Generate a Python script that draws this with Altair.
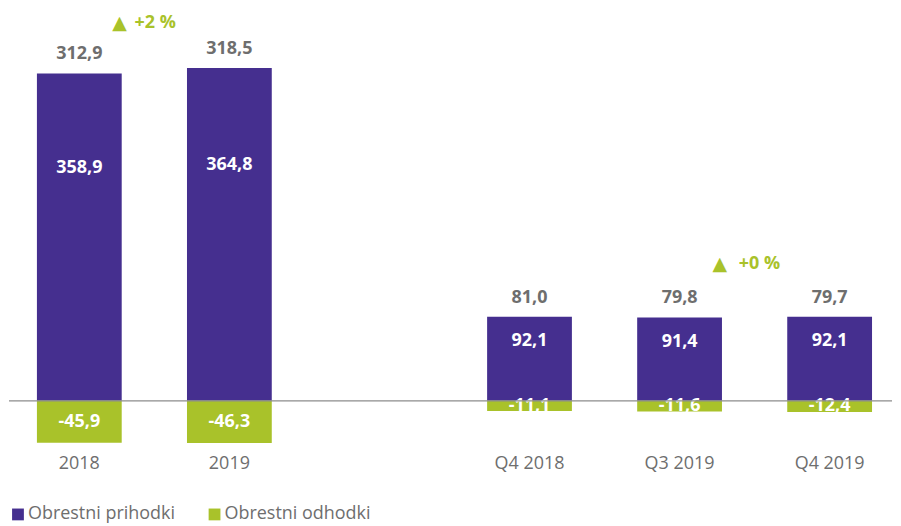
import altair as alt
import pandas as pd

# ---- data ----
kategorije = ["2018", "2019", "Q4 2018", "Q3 2019", "Q4 2019"]
x_domena = ["2018", "2019", " ", "Q4 2018", "Q3 2019", "Q4 2019"]
prihodki = [358.9, 364.8, 92.1, 91.4, 92.1]
odhodki = [-45.9, -46.3, -11.1, -11.6, -12.4]
neto = [312.9, 318.5, 81.0, 79.8, 79.7]
serije = ["Obrestni prihodki", "Obrestni odhodki"]
anotacije = ["+2 %", "+0 %"]
anot_kat = ["2019", "Q4 2019"]

PURPLE = "#452F8F"
GREEN = "#A9C22A"
GRAY = "#6E6E6E"
FONT = "Open Sans"


def fmt(v):
    return f"{v:.1f}".replace(".", ",")


long_rows = []
for k, p, o in zip(kategorije, prihodki, odhodki):
    long_rows.append({"kat": k, "serija": serije[0], "vrednost": p})
    long_rows.append({"kat": k, "serija": serije[1], "vrednost": o})
long_df = pd.DataFrame(long_rows)

wide_df = pd.DataFrame({
    "kat": kategorije,
    "prih": prihodki,
    "odh": odhodki,
    "neto": neto,
    "prih_lbl": [fmt(v) for v in prihodki],
    "odh_lbl": [fmt(v) for v in odhodki],
    "neto_lbl": [fmt(v) for v in neto],
})

ann_df = pd.DataFrame({
    "kat": anot_kat,
    "txt": anotacije,
    "tri": ["▲"] * len(anot_kat),
    "prih": [prihodki[kategorije.index(k)] for k in anot_kat],
})

W = 885
H = 437

xscale = alt.Scale(domain=x_domena, paddingInner=0.435, paddingOuter=0.1596, align=0.583)
yscale = alt.Scale(domain=[-48, 430], zero=False, nice=False)

xenc = alt.X(
    "kat:N",
    scale=xscale,
    sort=x_domena,
    title=None,
    axis=alt.Axis(
        domain=False, ticks=False, labelAngle=0, labelFont=FONT,
        labelFontSize=18, labelColor=GRAY, labelPadding=10, grid=False,
    ),
)

bars = alt.Chart(long_df).mark_bar().encode(
    x=xenc,
    y=alt.Y("vrednost:Q", scale=yscale, axis=None, stack=None),
    color=alt.Color(
        "serija:N",
        scale=alt.Scale(domain=serije, range=[PURPLE, GREEN]),
        sort=serije,
        legend=alt.Legend(
            title=None, orient="none", legendX=0, legendY=498, padding=0,
            direction="horizontal", symbolType="square", symbolSize=140,
            symbolStrokeWidth=0, labelFont=FONT, labelFontSize=18,
            labelColor=GRAY, labelOffset=1, columnPadding=30,
            labelExpr="datum.label == 'Obrestni odhodki' ? '\u00a0\u00a0' + datum.label : datum.label",
        ),
    ),
)

base = alt.Chart(wide_df)

inner = base.mark_text(
    font=FONT, fontSize=18, fontWeight="bold", color="white", baseline="middle"
).transform_calculate(
    ypos="datum.prih * 0.71"
).encode(x=xenc, y=alt.Y("ypos:Q", scale=yscale), text="prih_lbl:N")

neg = base.mark_text(
    font=FONT, fontSize=18, fontWeight="bold", color="white", baseline="middle"
).transform_calculate(
    ypos="datum.odh / 2"
).encode(x=xenc, y=alt.Y("ypos:Q", scale=yscale), text="odh_lbl:N")

net = base.mark_text(
    font=FONT, fontSize=18, fontWeight="bold", color=GRAY, baseline="middle", dy=-19
).encode(x=xenc, y=alt.Y("prih:Q", scale=yscale), text="neto_lbl:N")

rule = alt.Chart(pd.DataFrame({"nic": [0]})).mark_rule(
    color="#8C8C8C", strokeWidth=1.2
).encode(y=alt.Y("nic:Q", scale=yscale), x=alt.value(0), x2=alt.value(W))


def annotation(i, dy, dx_txt):
    src = alt.Chart(ann_df.iloc[[i]])
    tri = src.mark_text(
        font="DejaVu Sans", fontSize=19, color=GREEN, baseline="middle",
        align="center", dx=-110, dy=dy,
    ).encode(x=xenc, y=alt.Y("prih:Q", scale=yscale), text="tri:N")
    txt = src.mark_text(
        font=FONT, fontSize=18, fontWeight="bold", color=GREEN, baseline="middle",
        align="left", dx=dx_txt, dy=dy,
    ).encode(x=xenc, y=alt.Y("prih:Q", scale=yscale), text="txt:N")
    return tri, txt


t1, a1 = annotation(0, -45, -95)
t2, a2 = annotation(1, -53, -91)

chart = alt.layer(bars, inner, neg, rule, net, t1, a1, t2, a2).properties(
    width=W, height=H, padding=0
).configure_view(stroke=None)

chart.save("out.html", embed_options={"renderer": "svg", "actions": False})
